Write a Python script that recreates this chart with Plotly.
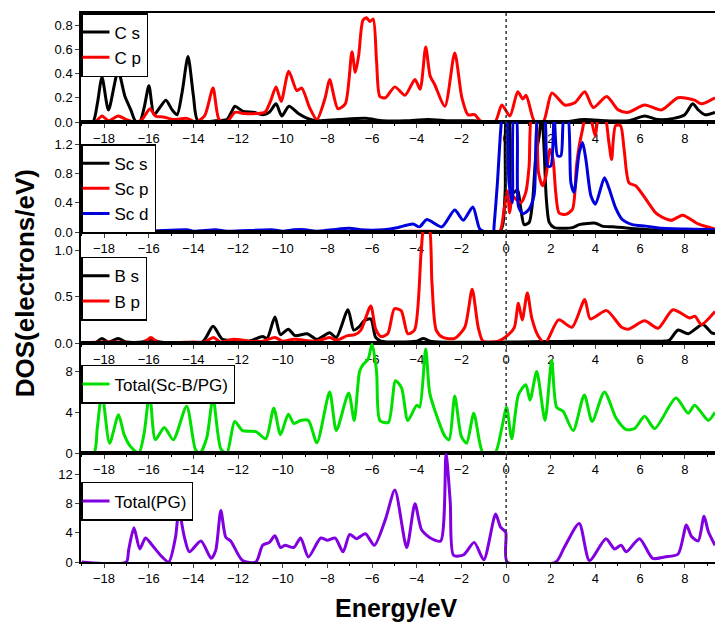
import plotly.graph_objects as go

# ---------------- data ----------------
# Panel 1: C s / C p
cs_E = [-19.0, -18.5, -18.3, -18.09, -17.8, -17.37, -17.06, -16.8, -16.6, -16.4, -16.2, -15.99, -15.76, -15.5,
        -15.23, -14.95, -14.73, -14.5, -14.24, -14.0, -13.8, -13.0, -12.5, -12.3, -12.14, -11.8, -11.3, -10.9,
        -10.6, -10.3, -10.04, -9.72, -9.3, -8.9, -8.47, -7.5, -6.3, -5.5, -4.5, -3.5, -2.5, -1.5, -0.5, 0.5,
        1.5, 2.5, 3.5, 4.5, 5.5, 6.2, 6.8, 7.5, 8.0, 8.35, 8.6, 8.9, 9.35]
cs_D = [0, 0, 0.15, 0.37, 0.10, 0.42, 0.21, 0.10, 0.01, 0.0, 0.12, 0.30, 0.06, 0.12,
        0.18, 0.10, 0.06, 0.25, 0.54, 0.22, 0.01, 0.01, 0.02, 0.08, 0.13, 0.09, 0.08, 0.06,
        0.08, 0.15, 0.05, 0.13, 0.07, 0.03, 0.01, 0.02, 0.03, 0.01, 0.01, 0.02, 0.01, 0.01, 0.0, 0.0,
        0.0, 0.0, 0.02, 0.01, 0.01, 0.05, 0.02, 0.03, 0.06, 0.15, 0.10, 0.06, 0.08]

cp_E = [-19.0, -18.4, -18.09, -17.8, -17.37, -17.0, -16.6, -16.3, -15.94, -15.7, -15.3, -14.9, -14.3, -13.9,
        -13.5, -13.12, -12.85, -12.5, -12.14, -11.7, -11.2, -10.8, -10.55, -10.3, -10.07, -9.73, -9.37, -9.15,
        -8.8, -8.47, -8.1, -7.9, -7.53, -7.2, -6.9, -6.75, -6.6, -6.41, -6.25, -6.1, -5.95, -5.8, -5.65, -5.4,
        -4.98, -4.53, -4.08, -3.85, -3.6, -3.4, -3.2, -2.74, -2.3, -1.98, -1.71, -1.41, -1.1, -0.5, -0.19,
        0.17, 0.52, 0.75, 0.9, 1.28, 1.66, 2.05, 2.63, 3.08, 3.52, 3.9, 4.5, 5.02, 5.47, 6.2, 6.96, 7.7,
        8.44, 8.74, 9.35]
cp_D = [0, 0.0, 0.05, 0.01, 0.05, 0.02, 0.0, 0.02, 0.11, 0.05, 0.04, 0.02, 0.03, 0.0,
        0.05, 0.28, 0.02, 0.0, 0.08, 0.07, 0.07, 0.08, 0.17, 0.29, 0.17, 0.42, 0.26, 0.28,
        0.12, 0.02, 0.20, 0.35, 0.11, 0.15, 0.58, 0.41, 0.55, 0.84, 0.86, 0.83, 0.85, 0.50, 0.21, 0.20,
        0.29, 0.22, 0.35, 0.27, 0.62, 0.38, 0.31, 0.13, 0.57, 0.20, 0.06, 0.06, 0.0, 0.0, 0.14,
        0.05, 0.25, 0.19, 0.22, 0.0, 0.0, 0.24, 0.14, 0.16, 0.25, 0.12, 0.21, 0.10, 0.08, 0.14, 0.10, 0.20,
        0.18, 0.15, 0.20]

# Panel 2: Sc s / Sc p / Sc d
scs_E = [-19.0, -10.0, -0.3, -0.15, -0.04, 0.02, 0.12, 0.2, 0.36, 0.51, 0.66, 0.81, 1.03, 1.18, 1.33, 1.48,
         1.6, 1.7, 1.8, 1.93, 2.15, 2.97, 3.27, 4.0, 4.3, 4.76, 5.2, 5.95, 7.0, 9.35]
scs_D = [0, 0.005, 0.0, 0.10, 0.58, 1.6, 1.6, 0.60, 0.54, 0.58, 0.31, 0.10, 0.13, 0.40, 1.04, 1.31,
         1.6, 1.13, 0.45, 0.13, 0.06, 0.06, 0.10, 0.12, 0.08, 0.07, 0.06, 0.04, 0.02, 0.02]

scp_E = [-19.0, -17.6, -17.3, -17.0, -6.0, -4.5, -3.5, -1.0, -0.3, -0.09, 0.06, 0.16, 0.28, 0.43, 0.66, 0.88,
         1.03, 1.15, 1.3, 1.45, 1.63, 1.78, 1.96, 2.1, 2.22, 2.37, 2.67, 2.97, 3.15, 3.27, 3.42, 3.57, 3.75,
         3.87, 3.99, 4.16, 4.4, 4.6, 4.72, 4.9, 5.12, 5.28, 5.5, 5.8, 6.25, 6.7, 7.0, 7.4, 7.9, 8.6, 9.35]
scp_D = [0, 0.0, 0.02, 0.0, 0.0, 0.01, 0.01, 0.0, 0.0, 0.31, 0.56, 0.26, 0.49, 0.45, 0.40, 0.54,
         0.90, 1.6, 1.6, 0.81, 0.63, 0.76, 1.13, 0.99, 0.54, 0.26, 0.24, 0.31, 0.90, 1.17, 1.40, 1.6, 1.6,
         1.45, 1.31, 1.6, 1.6, 1.22, 0.99, 1.45, 1.45, 1.13, 0.67, 0.63, 0.45, 0.26, 0.20, 0.16, 0.23, 0.11, 0.04]

scd_E = [-19.0, -18.5, -17.5, -16.0, -14.3, -14.0, -13.0, -12.5, -10.5, -10.0, -9.5, -9.0, -8.5, -7.8, -7.0,
         -6.5, -5.5, -5.0, -4.85, -4.17, -3.88, -3.55, -2.88, -2.3, -1.92, -1.49, -1.18, -0.9, -0.57, -0.54,
         -0.39, -0.24, -0.16, -0.01, 0.13, 0.28, 0.35, 0.45, 0.55, 0.75, 1.0, 1.25, 1.45, 1.7, 1.85, 2.0, 2.15,
         2.3, 2.45, 2.6, 2.75, 2.9, 3.04, 3.27, 3.42, 3.57, 3.8, 4.0, 4.4, 4.6, 4.9, 5.2, 5.65, 6.25, 7.0,
         8.0, 9.35]
scd_D = [0, 0.01, 0.01, 0.01, 0.03, 0.01, 0.03, 0.01, 0.03, 0.01, 0.03, 0.03, 0.01, 0.03, 0.05,
         0.03, 0.03, 0.05, 0.06, 0.11, 0.07, 0.17, 0.07, 0.30, 0.16, 0.34, 0.04, 0.0, 0.0, 0.08,
         0.67, 1.40, 1.6, 1.6, 0.67, 0.40, 1.6, 1.6, 0.35, 0.25, 0.30, 0.50, 1.6, 1.6, 0.90, 0.90, 1.6,
         1.04, 1.04, 1.6, 1.6, 0.67, 0.54, 1.08, 1.22, 0.99, 0.49, 0.38, 0.74, 0.60, 0.33, 0.17, 0.10, 0.08, 0.05,
         0.04, 0.03]

# Panel 3: B s / B p
bs_E = [-19.0, -18.4, -18.1, -17.8, -17.37, -17.0, -16.3, -15.9, -15.5, -13.6, -13.12, -12.7, -12.2, -11.5,
        -10.9, -10.7, -10.35, -10.1, -9.75, -9.45, -8.9, -8.47, -7.9, -7.6, -7.08, -6.82, -6.56, -6.36, -6.06,
        -5.84, -5.6, -4.0, -3.7, -3.4, 0.0, 3.0, 7.0, 7.3, 7.7, 8.15, 8.8, 9.2, 9.35]
bs_D = [0, 0.0, 0.05, 0.01, 0.05, 0.01, 0.01, 0.04, 0.01, 0.01, 0.18, 0.04, 0.03, 0.02,
        0.07, 0.05, 0.28, 0.09, 0.15, 0.08, 0.10, 0.04, 0.11, 0.06, 0.36, 0.14, 0.18, 0.24, 0.26,
        0.06, 0.02, 0.02, 0.05, 0.02, 0.01, 0.02, 0.02, 0.03, 0.14, 0.10, 0.20, 0.11, 0.10]

bp_E = [-19.0, -18.0, -17.4, -16.2, -15.9, -15.6, -14.0, -13.5, -13.1, -12.8, -12.2, -11.5, -10.9, -10.35,
        -10.0, -9.5, -8.5, -7.9, -7.6, -7.1, -6.77, -6.5, -6.06, -5.84, -5.6, -5.3, -5.0, -4.7, -4.4, -4.1,
        -3.8, -3.65, -3.47, -3.32, -3.13, -2.83, -2.3, -1.85, -1.52, -1.25, -1.03, -0.35, 0.1, 0.37, 0.55,
        0.72, 0.95, 1.15, 1.45, 1.75, 2.35, 2.95, 3.52, 3.77, 4.5, 5.17, 5.47, 6.2, 6.8, 7.47, 8.22, 8.45,
        8.74, 9.35]
bp_D = [0, 0.01, 0.01, 0.01, 0.06, 0.01, 0.01, 0.01, 0.06, 0.01, 0.04, 0.02, 0.02, 0.06,
        0.02, 0.04, 0.02, 0.06, 0.03, 0.08, 0.09, 0.14, 0.40, 0.15, 0.07, 0.10, 0.37, 0.35, 0.10, 0.14,
        1.00, 1.30, 1.30, 0.65, 0.14, 0.06, 0.05, 0.17, 0.58, 0.17, 0.02, 0.02, 0.09, 0.17, 0.43,
        0.25, 0.54, 0.27, 0.07, 0.0, 0.25, 0.17, 0.47, 0.26, 0.35, 0.17, 0.15, 0.24, 0.16, 0.36, 0.27, 0.29,
        0.20, 0.34]

# Panel 4: Total(Sc-B/PG)
tsb_E = [-19.0, -18.45, -18.3, -18.09, -17.75, -17.35, -17.1, -16.8, -16.44, -16.2, -15.96, -15.7, -15.3,
         -14.9, -14.3, -13.9, -13.7, -13.4, -13.12, -12.77, -12.5, -12.15, -11.8, -11.2, -10.76, -10.4, -10.1,
         -9.75, -9.5, -9.2, -8.85, -8.47, -7.9, -7.6, -7.05, -6.8, -6.56, -6.4, -6.18, -6.0, -5.8, -5.65,
         -5.27, -4.95, -4.68, -4.4, -4.0, -3.87, -3.6, -3.42, -3.1, -2.73, -2.55, -2.3, -2.0, -1.77, -1.45,
         -1.18, -1.03, -0.5, -0.2, 0.02, 0.25, 0.55, 0.88, 1.07, 1.37, 1.74, 2.04, 2.26, 2.55, 3.0, 3.5,
         3.85, 4.4, 4.93, 5.38, 5.75, 6.2, 6.65, 7.6, 8.15, 8.44, 9.05, 9.35]
tsb_D = [0, 0, 2.5, 5.9, 0.96, 3.76, 1.8, 0.6, 0, 2.0, 5.9, 1.3, 2.5,
         1.3, 4.6, 0.3, 0, 1.5, 5.4, 0.4, 0, 3.1, 2.2, 2.1, 1.4, 4.4, 1.8,
         3.8, 2.9, 3.2, 3.2, 1.0, 6.0, 2.2, 5.9, 3.2, 8.0, 8.7, 9.2, 10.7, 8.0, 3.2,
         3.0, 7.1, 6.4, 3.2, 4.7, 4.5, 10.2, 5.9, 3.6, 1.6, 1.3, 5.6, 1.6, 0.96, 3.9,
         1.0, 0, 0, 2.4, 4.5, 1.4, 5.7, 6.7, 5.2, 8.0, 3.2, 9.1, 4.5, 4.1, 2.2, 5.7,
         3.1, 6.0, 3.4, 2.3, 2.4, 3.6, 2.4, 5.4, 3.9, 4.7, 3.2, 4.0]

# Panel 5: Total(PG)
tpg_E = [-19.0, -17.0, -16.9, -16.66, -16.4, -16.14, -15.84, -15.4, -15.1, -14.8, -14.65, -14.4, -14.18,
         -13.66, -13.2, -13.0, -12.77, -12.55, -12.33, -11.8, -11.2, -10.9, -10.6, -10.35, -10.1, -9.9, -9.5,
         -9.2, -8.85, -8.3, -8.0, -7.65, -7.3, -7.0, -6.7, -6.3, -5.9, -5.4, -4.98, -4.45, -4.08, -3.78,
         -3.33, -2.93, -2.69, -2.5, -2.35, -1.9, -1.43, -1.0, -0.47, -0.25, -0.02, 0.05, 2.22, 2.6, 3.27,
         3.73, 4.47, 4.85, 5.15, 5.38, 5.97, 6.56, 7.1, 7.7, 8.07, 8.3, 8.6, 8.86, 9.05, 9.35]
tpg_D = [0, 0, 1.6, 4.7, 1.8, 3.3, 2.3, 0.7, 0, 3.4, 7.1, 3.4, 1.4,
         2.9, 0.5, 1.6, 7.1, 3.4, 2.9, 0.2, 0, 2.3, 2.7, 3.6, 2.0, 2.3, 2.0,
         3.3, 0.7, 3.3, 3.0, 3.3, 1.4, 3.8, 3.2, 3.9, 2.3, 5.9, 9.9, 2.0, 8.0, 4.4,
         3.2, 2.9, 14.8, 8.2, 0.9, 1.0, 2.7, 0.3, 6.6, 4.8, 4.1, 0, 0, 2.0, 5.3,
         0.2, 3.2, 1.8, 2.3, 1.4, 3.2, 0.5, 0.7, 1.1, 5.1, 3.5, 2.9, 6.3, 4.2, 2.3]

x_ticks = [-18, -16, -14, -12, -10, -8, -6, -4, -2, 0, 2, 4, 6, 8]

# ---------------- figure ----------------
RED, BLACK, BLUE, GREEN, PURPLE = "#ff0000", "#000000", "#0000dd", "#00e000", "#8000e0"
FONT = "Liberation Sans, Arial, sans-serif"

panels = [
    # (series list, y range, dtick, tickformat, legend top)
    ([("C s", cs_E, cs_D, BLACK), ("C p", cp_E, cp_D, RED)], [0, 0.9], 0.2, ".1f", 1.0),
    ([("Sc s", scs_E, scs_D, BLACK), ("Sc p", scp_E, scp_D, RED), ("Sc d", scd_E, scd_D, BLUE)],
     [0, 1.5], 0.4, ".1f", 0.761),
    ([("B s", bs_E, bs_D, BLACK), ("B p", bp_E, bp_D, RED)], [0, 1.2], 0.5, ".1f", 0.556),
    ([("Total(Sc-B/PG)", tsb_E, tsb_D, GREEN)], [0, 10.8], 4, "d", 0.359),
    ([("Total(PG)", tpg_E, tpg_D, PURPLE)], [0, 15], 4, "d", 0.146),
]

# pixel boundaries of the 5 stacked panels (top to bottom)
bounds_px = [13, 122, 232, 343, 453, 562]
H = 562 - 13

fig = go.Figure()
layout = dict(
    width=715, height=626,
    margin=dict(l=81, r=0, t=13, b=64),
    paper_bgcolor="white", plot_bgcolor="white",
    font=dict(family=FONT, size=13, color="black"),
    showlegend=True,
)

for i, (series, yr, dt, tf, ltop) in enumerate(panels):
    n = i + 1
    xa = "xaxis" if n == 1 else f"xaxis{n}"
    ya = "yaxis" if n == 1 else f"yaxis{n}"
    xref = "x" if n == 1 else f"x{n}"
    yref = "y" if n == 1 else f"y{n}"
    lg = "legend" if n == 1 else f"legend{n}"
    top, bot = bounds_px[i], bounds_px[i + 1]
    dom = [(562 - bot) / H, (562 - top) / H]
    for name, E, D, col in series:
        fig.add_trace(go.Scatter(x=E, y=D, mode="lines", name=name,
                                 line=dict(color=col, width=3, shape="spline", smoothing=0.7),
                                 xaxis=xref, yaxis=yref, legend=lg))
    layout[xa] = dict(range=[-19.03, 9.35], domain=[0, 1], anchor=yref,
                      tickvals=x_ticks, ticks="outside", ticklen=4, tickwidth=1.2,
                      showline=True, linecolor="black", linewidth=1.5, mirror=True,
                      showgrid=False, zeroline=False,
                      minor=dict(dtick=1, ticks="outside", ticklen=2, tickcolor="black"),
                      tickfont=dict(size=13, family=FONT))
    layout[ya] = dict(range=yr, domain=dom, anchor=xref, dtick=dt, tick0=0, tickformat=tf,
                      ticks="outside", ticklen=4, tickwidth=1.2,
                      showline=True, linecolor="black", linewidth=1.5, mirror=False,
                      showgrid=False, zeroline=False,
                      tickfont=dict(size=13, family=FONT))
    layout[lg] = dict(x=0, y=ltop, xanchor="left", yanchor="top",
                      bgcolor="white", bordercolor="black", borderwidth=1.5,
                      font=dict(size=17, family=FONT), tracegroupgap=0,
                      itemwidth=30, indentation=-8)

fig.update_layout(**layout)

# dotted Fermi level line through all panels
fig.add_shape(type="line", xref="x5", yref="paper", x0=0, x1=0, y0=0, y1=1,
              line=dict(color="#333333", width=1.5, dash="dot"))

fig.add_annotation(text="<b>Energy/eV</b>", xref="paper", yref="paper", x=0.497, y=-0.084,
                   showarrow=False, font=dict(size=25, family=FONT), xanchor="center", yanchor="middle")
fig.add_annotation(text="<b>DOS(electrons/eV)</b>", xref="paper", yref="paper", x=-0.088, y=0.508,
                   showarrow=False, font=dict(size=26, family=FONT), textangle=-90,
                   xanchor="center", yanchor="middle")

fig.write_html("out.html")
